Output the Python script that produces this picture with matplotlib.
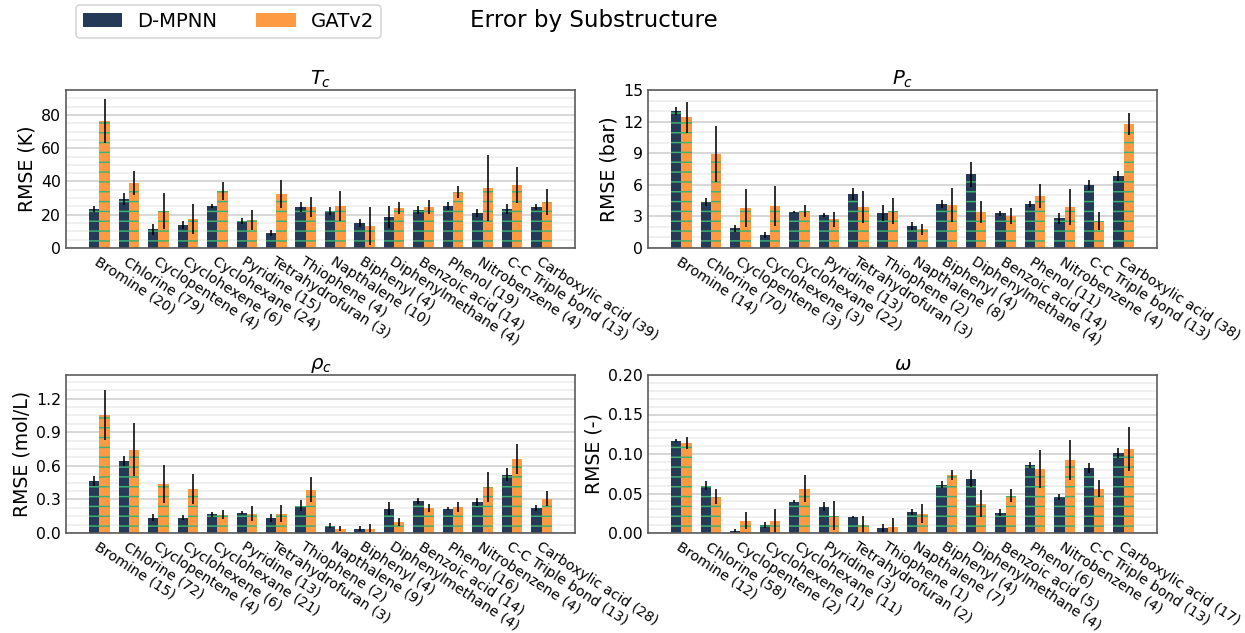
import numpy as np
import matplotlib
matplotlib.use('Agg')
import matplotlib.pyplot as plt
from matplotlib.patches import Patch
from matplotlib.ticker import MultipleLocator, FormatStrFormatter

# substructure names shared by all four panels
substructures = ['Bromine', 'Chlorine', 'Cyclopentene', 'Cyclohexene', 'Cyclohexane',
                 'Pyridine', 'Tetrahydrofuran', 'Thiophene', 'Napthalene', 'Biphenyl',
                 'Diphenylmethane', 'Benzoic acid', 'Phenol', 'Nitrobenzene',
                 'C-C Triple bond', 'Carboxylic acid']

# molecule counts per panel
tc_counts = [20, 79, 4, 6, 24, 15, 3, 4, 10, 4, 4, 14, 19, 4, 13, 39]
pc_counts = [14, 70, 3, 3, 22, 13, 3, 2, 8, 4, 4, 14, 11, 4, 13, 38]
rho_counts = [15, 72, 4, 6, 21, 13, 3, 2, 9, 4, 4, 14, 16, 4, 13, 28]
omega_counts = [12, 58, 2, 1, 11, 3, 2, 1, 7, 4, 4, 5, 6, 4, 13, 17]

# Tc (K)
tc_dmpnn = [23.4, 29.5, 11.4, 13.8, 25.3, 16.2, 9.0, 24.6, 22.2, 15.0, 18.6, 22.8, 25.3, 21.0, 23.4, 24.6]
tc_dmpnn_err = [1.7, 3.6, 3.3, 2.2, 1.0, 1.8, 1.8, 2.8, 2.6, 2.4, 6.8, 2.6, 2.2, 2.4, 3.1, 1.9]
tc_gat = [76.4, 39.1, 22.2, 17.4, 34.3, 16.8, 32.5, 24.6, 25.3, 13.2, 24.0, 24.6, 33.7, 36.1, 37.9, 27.7]
tc_gat_err = [13.0, 7.0, 11.0, 9.0, 5.2, 5.8, 8.6, 6.0, 9.0, 11.4, 3.6, 4.0, 3.8, 20.0, 10.8, 7.6]

# Pc (bar)
pc_dmpnn = [12.98, 4.33, 1.86, 1.23, 3.41, 3.13, 5.12, 3.32, 2.08, 4.17, 7.0, 3.32, 4.17, 2.81, 5.97, 6.82]
pc_dmpnn_err = [0.4, 0.38, 0.3, 0.28, 0.13, 0.22, 0.57, 0.73, 0.35, 0.4, 1.18, 0.24, 0.25, 0.55, 0.5, 0.5]
pc_gat = [12.4, 8.9, 3.76, 3.98, 3.5, 2.72, 3.88, 3.5, 1.8, 4.07, 3.41, 3.03, 4.93, 3.88, 2.56, 11.75]
pc_gat_err = [1.45, 2.65, 1.8, 1.9, 0.54, 0.7, 1.53, 1.26, 0.52, 1.6, 1.03, 0.73, 1.1, 1.7, 0.85, 1.04]

# rho_c (mol/L)
rho_dmpnn = [0.465, 0.643, 0.137, 0.137, 0.167, 0.182, 0.137, 0.244, 0.066, 0.039, 0.217, 0.289, 0.217, 0.28, 0.521, 0.226]
rho_dmpnn_err = [0.046, 0.044, 0.034, 0.025, 0.02, 0.016, 0.035, 0.05, 0.02, 0.02, 0.06, 0.027, 0.012, 0.036, 0.06, 0.026]
rho_gat = [1.054, 0.744, 0.44, 0.393, 0.164, 0.173, 0.173, 0.387, 0.039, 0.039, 0.10, 0.226, 0.235, 0.414, 0.661, 0.307]
rho_gat_err = [0.226, 0.238, 0.17, 0.133, 0.04, 0.065, 0.075, 0.113, 0.022, 0.045, 0.034, 0.037, 0.045, 0.134, 0.137, 0.067]

# omega (-)
omega_dmpnn = [0.1166, 0.0598, 0.003, 0.0105, 0.0396, 0.0333, 0.0206, 0.0067, 0.027, 0.061, 0.0686, 0.0257, 0.0863, 0.0459, 0.0825, 0.101]
omega_dmpnn_err = [0.002, 0.0057, 0.0025, 0.0038, 0.0017, 0.0055, 0.0013, 0.005, 0.0038, 0.0046, 0.011, 0.0044, 0.0038, 0.0038, 0.0063, 0.006]
omega_gat = [0.1137, 0.0459, 0.0156, 0.0156, 0.056, 0.0219, 0.0105, 0.008, 0.0244, 0.0737, 0.037, 0.0472, 0.0813, 0.0926, 0.056, 0.1065]
omega_gat_err = [0.0076, 0.0093, 0.0105, 0.015, 0.017, 0.018, 0.011, 0.011, 0.012, 0.0063, 0.017, 0.0082, 0.024, 0.0257, 0.0105, 0.028]

DMPNN_COLOR = '#243a56'
GAT_COLOR = '#fe9b42'

plt.rcParams['hatch.color'] = '#3cb371'
plt.rcParams['hatch.linewidth'] = 0.9

W, H, DPI = 1245, 633, 118
fig = plt.figure(figsize=(W / DPI, H / DPI), dpi=DPI)


def make_panel(rect, title, ylabel, counts, d_vals, d_err, g_vals, g_err,
               ylim, major, minor, fmt):
    ax = fig.add_axes(rect)
    x = np.arange(len(substructures))
    width = 0.35
    ekw = dict(ecolor='black', elinewidth=1.2, alpha=0.8, capsize=0)
    ax.bar(x - width / 2, d_vals, width, yerr=d_err, color=DMPNN_COLOR,
           hatch='--', error_kw=ekw)
    ax.bar(x + width / 2, g_vals, width, yerr=g_err, color=GAT_COLOR,
           hatch='--', error_kw=ekw)

    ax.set_ylim(*ylim)
    ax.yaxis.set_major_locator(MultipleLocator(major))
    ax.yaxis.set_minor_locator(MultipleLocator(minor))
    ax.yaxis.set_major_formatter(FormatStrFormatter(fmt))
    ax.set_axisbelow(True)
    ax.yaxis.grid(True, which='major', color='#d4d4d4', linewidth=1.1)
    ax.yaxis.grid(True, which='minor', color='#ededed', linewidth=1.0)

    ax.tick_params(axis='both', which='both', length=0)
    ax.tick_params(axis='y', labelsize=9.6, pad=3)
    ax.tick_params(axis='x', pad=4)
    ax.set_xticks(x)
    ax.set_xticklabels([f'{n} ({c})' for n, c in zip(substructures, counts)],
                       rotation=-33, ha='left', va='top', rotation_mode='anchor',
                       fontsize=8.6)
    for s in ax.spines.values():
        s.set_color('#5a5a5a')
        s.set_linewidth(1.0)
    ax.set_title(title, fontsize=12, pad=3)
    ax.set_ylabel(ylabel, fontsize=11.5, labelpad=3)
    return ax


axw = 509 / W
axh = 158 / H
left1, left2 = 66 / W, 648 / W
bot_top, bot_bot = 1 - 248 / H, 1 - 533 / H

make_panel([left1, bot_top, axw, axh], '$T_c$', 'RMSE (K)', tc_counts,
           tc_dmpnn, tc_dmpnn_err, tc_gat, tc_gat_err, (0, 95), 20, 5, '%d')
make_panel([left2, bot_top, axw, axh], '$P_c$', 'RMSE (bar)', pc_counts,
           pc_dmpnn, pc_dmpnn_err, pc_gat, pc_gat_err, (0, 15), 3, 1, '%d')
make_panel([left1, bot_bot, axw, axh], r'$\rho_c$', 'RMSE (mol/L)', rho_counts,
           rho_dmpnn, rho_dmpnn_err, rho_gat, rho_gat_err, (0, 1.41), 0.3, 0.075, '%.1f')
make_panel([left2, bot_bot, axw, axh], r'$\omega$', 'RMSE (-)', omega_counts,
           omega_dmpnn, omega_dmpnn_err, omega_gat, omega_gat_err, (0, 0.2), 0.05, 0.01, '%.2f')

handles = [Patch(facecolor=DMPNN_COLOR), Patch(facecolor=GAT_COLOR)]
fig.legend(handles, ['D-MPNN', 'GATv2'], loc='upper left',
           bbox_to_anchor=(76 / W, 1 - 5 / H), ncol=2, fontsize=12,
           handlelength=2.0, handleheight=0.7, handletextpad=0.76,
           columnspacing=2.0, borderpad=0.35, borderaxespad=0, frameon=True)
fig.text(594 / W, 1 - 21 / H, 'Error by Substructure', ha='center', va='center',
         fontsize=14)

fig.savefig('out.png', dpi=DPI)
